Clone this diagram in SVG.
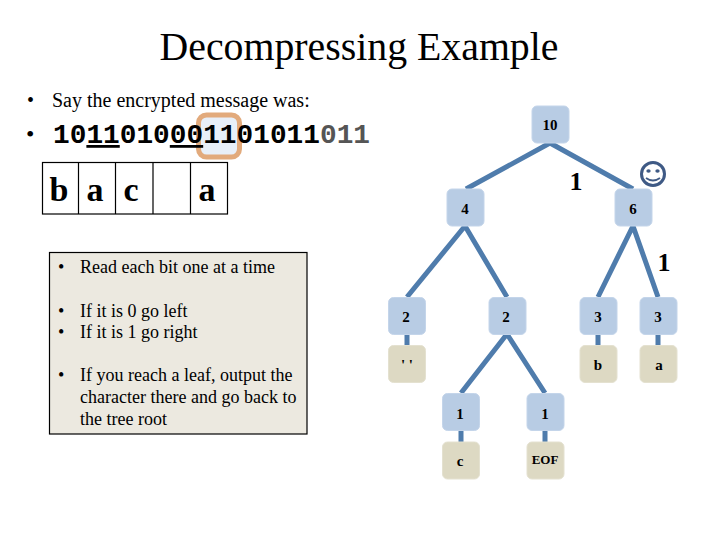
<svg xmlns="http://www.w3.org/2000/svg" width="720" height="540" viewBox="0 0 720 540">
<style>
text{font-family:"Liberation Serif","Times New Roman",serif;fill:#000}
.n{fill:#b8cce4;stroke:#c4d5ea;stroke-width:1}
.l{fill:#ddd9c3;stroke:#e4e1d0;stroke-width:1}
.t{font-size:15px;font-weight:bold;text-anchor:middle}
.c{stroke:#4f7cac;stroke-width:5;fill:none}
.b{font-size:18px}
.cell{fill:#fff;stroke:#000;stroke-width:1.2}
.ch{font-size:34px;font-weight:bold;text-anchor:middle}
.one{font-size:26px;font-weight:bold;text-anchor:middle}
.m{font-family:"Liberation Mono","Courier New",monospace;font-size:27.8px;font-weight:bold}
</style>
<rect width="720" height="540" fill="#fff"/>
<text x="359" y="60" font-size="39.8" text-anchor="middle">Decompressing Example</text>
<g id="intro">
<text x="27" y="107" font-size="20">•</text>
<text x="52" y="107" font-size="20">Say the encrypted message was:</text>
</g>
<g id="highlight"><rect x="198.500" y="115" width="41" height="42" rx="8" fill="#e8eff8" stroke="#e2aa7c" stroke-width="5"/></g>
<g id="bits">
<text x="26" y="142" font-size="24">•</text>
<text class="m" x="53" y="143"><tspan>10</tspan><tspan text-decoration="underline">11</tspan><tspan>010</tspan><tspan text-decoration="underline">00</tspan><tspan>11</tspan><tspan>01011</tspan><tspan fill="#555555">011</tspan></text>
</g>
<g id="output">
<rect class="cell" x="42.500" y="162.500" width="185" height="51.500"/>
<path d="M78.500 162.500V214M115.500 162.500V214M153 162.500V214M190.500 162.500V214" stroke="#000" stroke-width="1.200" fill="none"/>
<text class="ch" x="59" y="201">b</text>
<text class="ch" x="95" y="201">a</text>
<text class="ch" x="131" y="201">c</text>
<text class="ch" x="207" y="201">a</text>
</g>
<g id="rules">
<rect x="49.500" y="252.500" width="257.500" height="181.500" fill="#ece9e0" stroke="#000" stroke-width="1.200"/>
<text class="b" x="58" y="273">•</text><text class="b" x="80" y="273">Read each bit one at a time</text>
<text class="b" x="58" y="317">•</text><text class="b" x="80" y="317">If it is 0 go left</text>
<text class="b" x="58" y="338">•</text><text class="b" x="80" y="338">If it is 1 go right</text>
<text class="b" x="58" y="381">•</text><text class="b" x="80" y="381">If you reach a leaf, output the</text>
<text class="b" x="80" y="403">character there and go back to</text>
<text class="b" x="80" y="425">the tree root</text>
</g>
<g id="connectors">
<path class="c" d="M550 143L466 189M550 143L633 189M465 226L407 297M465 226L507 297M633 226L598 297M633 226L658 297"/>
<path class="c" d="M507 334L461 393M507 334L545 393M407 334V345M598 334V345M658 334V345M461 430V442M545 430V442"/>
</g>
<g id="n10"><rect class="n" x="532" y="106" width="37" height="37" rx="5"/><text class="t" x="550" y="130">10</text></g>
<g id="n4"><rect class="n" x="447" y="189" width="37" height="37" rx="5"/><text class="t" x="465" y="214">4</text></g>
<g id="n6"><rect class="n" x="615" y="189" width="37" height="37" rx="5"/><text class="t" x="633" y="214">6</text></g>
<g id="n2a"><rect class="n" x="388.500" y="297.500" width="37" height="37" rx="5"/><text class="t" x="406" y="322">2</text></g>
<g id="n2b"><rect class="n" x="489" y="297.500" width="37" height="37" rx="5"/><text class="t" x="506" y="322">2</text></g>
<g id="n3a"><rect class="n" x="580" y="297.500" width="37" height="37" rx="5"/><text class="t" x="598" y="322">3</text></g>
<g id="n3b"><rect class="n" x="640" y="297.500" width="37" height="37" rx="5"/><text class="t" x="658" y="322">3</text></g>
<g id="lspace"><rect class="l" x="388.500" y="345.500" width="37" height="37" rx="5"/><text class="t" x="407" y="370">' '</text></g>
<g id="lb"><rect class="l" x="580" y="345.500" width="37" height="37" rx="5"/><text class="t" x="598" y="370">b</text></g>
<g id="la"><rect class="l" x="640" y="345.500" width="37" height="37" rx="5"/><text class="t" x="659" y="370">a</text></g>
<g id="n1a"><rect class="n" x="442.500" y="393.500" width="37" height="37" rx="5"/><text class="t" x="460" y="419">1</text></g>
<g id="n1b"><rect class="n" x="527" y="393.500" width="37" height="37" rx="5"/><text class="t" x="545" y="419">1</text></g>
<g id="lc"><rect class="l" x="442.500" y="442" width="37" height="37" rx="5"/><text class="t" x="460" y="466">c</text></g>
<g id="leof"><rect class="l" x="527" y="442" width="37" height="37" rx="5"/><text x="545" y="464" font-size="13" font-weight="bold" text-anchor="middle">EOF</text></g>
<text class="one" x="576" y="190">1</text>
<text class="one" x="664" y="271">1</text>
<g id="smiley" fill="none" stroke="#3f5a85">
<circle cx="653" cy="174" r="11.500" stroke-width="3"/>
<ellipse cx="648.500" cy="171" rx="2.200" ry="1.800" fill="#3f5a85" stroke="none"/>
<ellipse cx="657.500" cy="171" rx="2.200" ry="1.800" fill="#3f5a85" stroke="none"/>
<path d="M646 178Q653 183 660 178" stroke-width="1.800"/>
</g>
</svg>
